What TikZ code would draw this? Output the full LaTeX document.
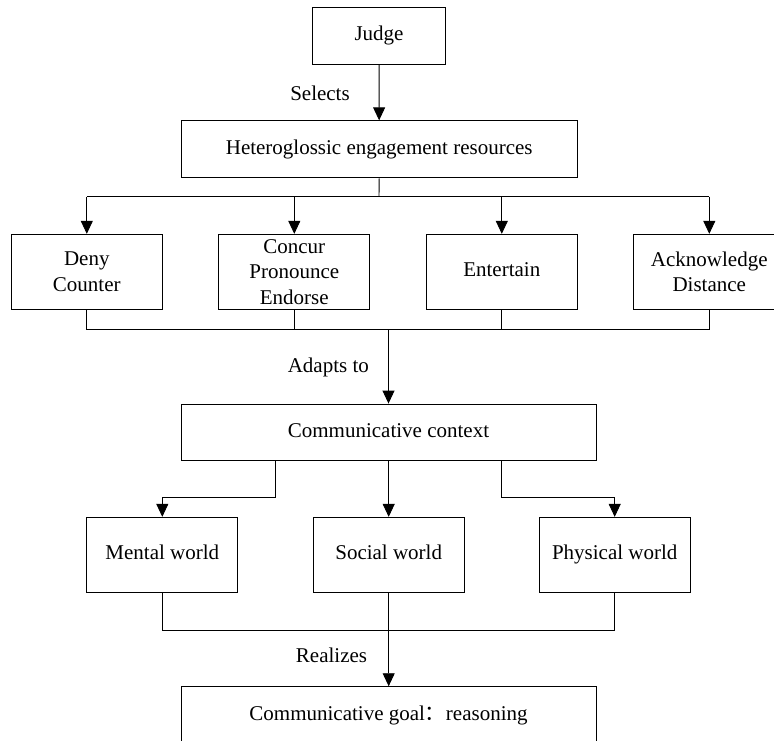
\documentclass[tikz,border=0pt]{standalone}
\usepackage{fontspec}
\setmainfont{Liberation Serif}
\newfontfamily\cjk{Noto Sans CJK SC}
\usetikzlibrary{arrows.meta}
\begin{document}
\begin{tikzpicture}[x=1pt,y=-1pt,
  every node/.style={font=\fontsize{21}{25.5}\selectfont},
  box/.style={draw, line width=0.9pt, rectangle, align=center, inner sep=0pt},
  oneline/.style={text height=1.2em, text depth=0.2em},
  wide/.style={box, oneline, minimum width=396pt, minimum height=57pt},
  small/.style={box, minimum width=151pt, minimum height=75pt},
  conn/.style={line width=0.9pt},
  arr/.style={conn, -{Triangle[length=13pt,width=12pt]}},
  lbl/.style={inner sep=0pt}]
\useasboundingbox (0,0) rectangle (774,740);
\clip (0,0) rectangle (774,740);
\fill[white] (0,0) rectangle (774,740);
% nodes
\node[box, oneline, minimum width=132.6pt, minimum height=57pt] (judge) at (379,35.8) {Judge};
\node[wide] (hetero) at (379.2,149.3) {Heteroglossic engagement resources};
\node[small] (deny) at (86.8,271.8) {Deny\\Counter};
\node[small] (concur) at (294.3,271.8) {Concur\\Pronounce\\Endorse};
\node[small, oneline] (entertain) at (501.8,271.8) {Entertain};
\node[small] (ack) at (709.3,271.8) {Acknowledge\\Distance};
\node[box, oneline, minimum width=415pt, minimum height=56pt] (comm) at (388.5,432) {Communicative context};
\node[small, oneline] (mental) at (162.3,554.8) {Mental world};
\node[small, oneline] (social) at (388.7,554.8) {Social world};
\node[small, oneline] (physical) at (614.7,554.8) {Physical world};
\node[box, oneline, minimum width=415pt, minimum height=57pt] (goal) at (388.5,715.2) {Communicative goal{\cjk ：}reasoning};
% labels
\node[lbl] (selects) at (320,93.5) {Selects};
\node[lbl] (adapts) at (328.3,367.5) {Adapts to};
\node[lbl] (realizes) at (331.5,655.8) {Realizes};
% coordinates
\coordinate (b1) at (379,196.7);
\coordinate (b2) at (388.5,329.3);
\coordinate (e1) at (275.3,497.8);
\coordinate (e2) at (501.7,497.8);
\coordinate (b3) at (388.7,630);
% connectors
\draw[arr] (judge) -- (hetero);
\draw[conn] (hetero.south) -- (b1);
\draw[conn] (b1 -| deny) -- (b1 -| ack);
\draw[arr] (b1 -| deny) -- (deny.north);
\draw[arr] (b1 -| concur) -- (concur.north);
\draw[arr] (b1 -| entertain) -- (entertain.north);
\draw[arr] (b1 -| ack) -- (ack.north);
\draw[conn] (deny.south) -- (deny.south |- b2) -- (ack.south |- b2) -- (ack.south);
\draw[conn] (concur.south) -- (concur.south |- b2);
\draw[conn] (entertain.south) -- (entertain.south |- b2);
\draw[arr] (b2) -- (comm.north -| b2);
\draw[arr] (e1 |- comm.south) -- (e1) -| (mental.north);
\draw[arr] (e2 |- comm.south) -- (e2) -| (physical.north);
\draw[arr] (comm.south -| social) -- (social.north);
\draw[conn] (mental.south) -- (mental.south |- b3) -- (physical.south |- b3) -- (physical.south);
\draw[conn] (social.south) -- (b3);
\draw[arr] (b3) -- (goal.north -| b3);
\end{tikzpicture}
\end{document}
